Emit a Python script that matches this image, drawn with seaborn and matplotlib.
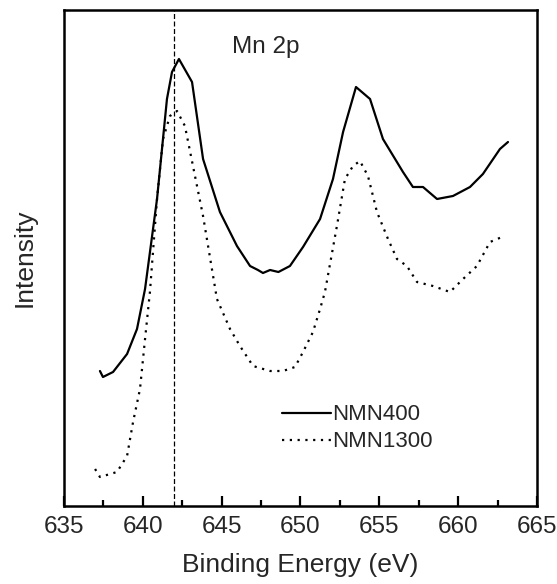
import matplotlib
matplotlib.use("Agg")
import matplotlib.pyplot as plt
import seaborn as sns
import pandas as pd

# NMN400 (solid)
be_400 = [637.28, 637.47, 638.11, 639.00, 639.63, 640.14, 640.90, 641.53, 641.85, 642.29,
          643.12, 643.82, 644.89, 645.97, 646.80, 647.30, 647.62, 648.07, 648.60, 649.33,
          650.16, 651.24, 652.06, 652.70, 653.52, 654.41, 655.23, 656.50, 657.13, 657.77,
          658.66, 659.67, 660.75, 661.57, 662.65, 663.16]
int_400 = [135, 129, 134, 152, 177, 217, 307, 407, 434, 447,
           424, 347, 294, 260, 240, 236, 233, 236, 234, 240,
           259, 287, 327, 374, 419, 407, 367, 334, 319, 319,
           307, 310, 319, 332, 357, 364]

# NMN1300 (dotted)
be_1300 = [636.97, 637.28, 638.36, 639.00, 639.38, 639.82, 640.14, 640.45, 640.90, 641.28,
           641.72, 642.17, 642.67, 643.18, 643.82, 644.70, 645.53, 646.16, 646.99, 648.07,
           648.89, 649.65, 650.16, 650.79, 651.24, 651.55, 652.31, 652.82, 653.33, 653.77,
           654.28, 654.85, 655.55, 656.12, 656.75, 657.39, 658.40, 659.48, 660.31, 661.19,
           662.02, 662.78]
int_1300 = [37, 29, 34, 50, 84, 117, 167, 214, 307, 367,
            390, 395, 380, 340, 290, 207, 177, 160, 140, 135,
            135, 139, 154, 174, 197, 214, 280, 327, 340, 345,
            330, 294, 267, 247, 240, 224, 220, 214, 227, 240,
            264, 269]

labels = ["NMN400", "NMN1300"]
x_ticks = [635, 640, 645, 650, 655, 660, 665]
x_minor_ticks = [637.5, 642.5, 647.5, 652.5, 657.5, 662.5]

df400 = pd.DataFrame({"be": be_400, "I": int_400})
df1300 = pd.DataFrame({"be": be_1300, "I": int_1300})

sns.set_style("ticks")
plt.rcParams["font.family"] = ["Liberation Sans", "DejaVu Sans"]

fig = plt.figure(figsize=(5.57, 5.84), dpi=100)
ax = fig.add_axes([64/557, 78/584, 473/557, 496/584])

sns.lineplot(data=df400, x="be", y="I", ax=ax, color="black", lw=1.6,
             label=labels[0], sort=False)
sns.lineplot(data=df1300, x="be", y="I", ax=ax, color="black", lw=1.6,
             linestyle=(0, (1, 2.5)), label=labels[1], sort=False)

ax.axvline(642.0, color="black", lw=0.9, dashes=(4, 2))

ax.set_xlim(635, 665)
ax.set_ylim(0, 496)
ax.set_xticks(x_ticks)
ax.set_xticks(x_minor_ticks, minor=True)
ax.set_yticks([])
ax.tick_params(axis="x", which="major", direction="in", length=7.5, width=1.6,
               color="black", labelsize=17.5, pad=7, top=False)
ax.tick_params(axis="x", which="minor", direction="in", length=4.5, width=1.6,
               color="black", bottom=True, top=False)
for s in ax.spines.values():
    s.set_linewidth(1.8)
    s.set_color("black")

ax.set_xlabel("Binding Energy (eV)", fontsize=19, labelpad=11)
ax.set_ylabel("Intensity", fontsize=19, labelpad=20)

ax.text(0.427, 0.925, "Mn 2p", transform=ax.transAxes, fontsize=17.5,
        ha="center", va="center")

ax.legend(loc="upper left", bbox_to_anchor=(0.461, 0.205), frameon=False,
          fontsize=16, handlelength=2.2, handletextpad=0.05, borderpad=0,
          borderaxespad=0, labelspacing=0.27)

fig.savefig("out.png", dpi=100)
